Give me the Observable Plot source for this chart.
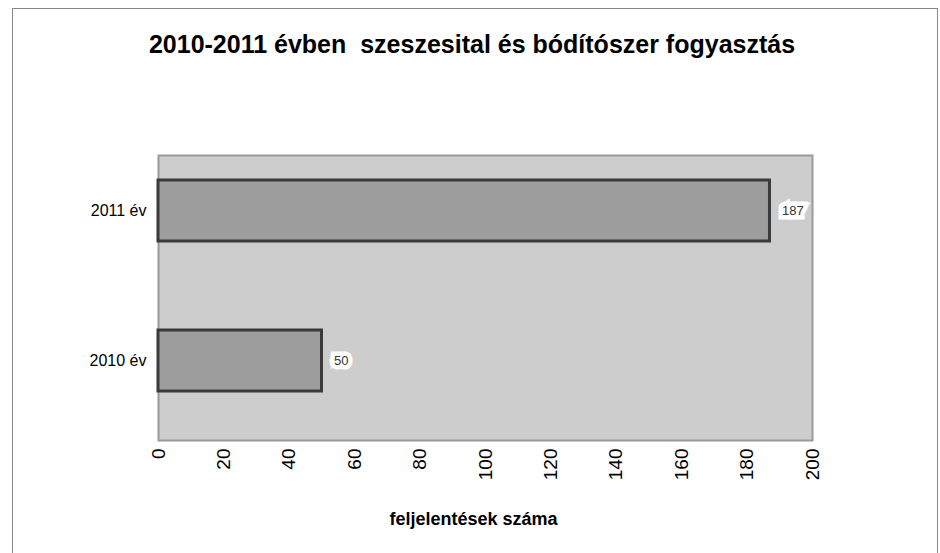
<!DOCTYPE html>
<html>
<head>
<meta charset="utf-8">
<script src="https://cdn.jsdelivr.net/npm/d3@7"></script>
<script src="https://cdn.jsdelivr.net/npm/@observablehq/plot@0.6"></script>
<style>
  body { margin: 0; background: #fff; font-family: "Liberation Sans", Arial, sans-serif; }
  #wrap { position: relative; width: 940px; height: 553px; overflow: hidden; }
  #frame { position: absolute; left: 12px; top: 8px; width: 926px; height: 560px; border: 1px solid #888; box-sizing: border-box; pointer-events: none; }
  #title { height: 100px; box-sizing: border-box; padding-top: 30px; text-align: center; font-weight: bold; font-size: 25px; color: #000; padding-left: 4px; white-space: nowrap; }
</style>
</head>
<body>
<div id="wrap">
  <div id="title">2010-2011 évben&nbsp; szeszesital és bódítószer fogyasztás</div>
  <div id="chart"></div>
  <div id="frame"></div>
</div>
<script>
const years = ["2011 év", "2010 év"];
const counts = [187, 50];
const xTicks = [0, 20, 40, 60, 80, 100, 120, 140, 160, 180, 200];
const xLabel = "feljelentések száma";

const data = years.map((y, i) => ({year: y, value: counts[i]}));

const chart = Plot.plot({
  width: 940,
  height: 453,
  marginLeft: 158,
  marginRight: 128,
  marginTop: 55,
  marginBottom: 113,
  style: {fontFamily: "Liberation Sans, Arial, sans-serif", background: "transparent"},
  x: {domain: [0, 200], ticks: xTicks},
  y: {domain: years, paddingInner: 0.593, paddingOuter: 0, insetTop: 25, insetBottom: 48},
  marks: [
    Plot.frame({fill: "#cdcdcd", stroke: "#9a9a9a", strokeWidth: 2}),
    Plot.ruleX(xTicks, {y1: 0, y2: 0, stroke: "#aaa"}),
    Plot.barX(data, {x: "value", y: "year", fill: "#9d9d9d", stroke: "#3a3a3a", strokeWidth: 3}),
    Plot.text(data, {x: "value", y: "year", text: d => String(d.value), textAnchor: "start", dx: 12,
      fill: "#333", stroke: "white", strokeWidth: 9, strokeLinejoin: "miter", fontSize: 13}),
    Plot.axisY({tickSize: 0, tickPadding: 12, fontSize: 16, fill: "#000", label: null}),
    Plot.axisX({ticks: xTicks, tickSize: 0, tickPadding: 8, tickRotate: -90, fontSize: 19, fill: "#000",
      label: null}),
    Plot.text([xLabel], {frameAnchor: "bottom", dy: 84, dx: -12, fontWeight: "bold", fontSize: 18, fill: "#000"})
  ]
});
document.getElementById("chart").appendChild(chart);
</script>
</body>
</html>
